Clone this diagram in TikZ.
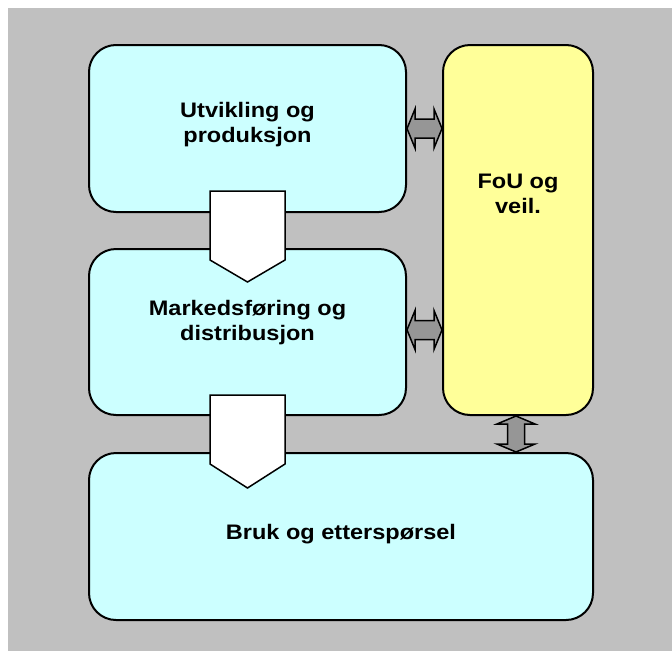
\documentclass[tikz,border=0pt]{standalone}
\usepackage{fontspec}
\setmainfont{Liberation Sans}[FakeStretch=1.12]
\usetikzlibrary{calc}

\definecolor{panelgray}{HTML}{C0C0C0}
\definecolor{boxcyan}{HTML}{CCFFFF}
\definecolor{boxyellow}{HTML}{FFFF99}
\definecolor{linkgray}{HTML}{969696}

\tikzset{
  stage/.style={draw=black, line width=2pt, rounded corners=27pt,
    minimum width=#1, inner sep=0pt, anchor=north west},
  label/.style={font=\bfseries\fontsize{21}{25}\selectfont, align=center,
    inner sep=0pt},
  flow/.style={draw=black, line width=1.5pt, fill=white, line join=miter},
  link/.style={draw=black, line width=1.5pt, fill=linkgray, line join=miter},
}

\begin{document}
\begin{tikzpicture}[x=1pt, y=-1pt]
  % page and grey panel
  \fill[white] (0,0) rectangle (672,651);
  \fill[panelgray] (8,8) rectangle (672,651);
  \useasboundingbox (0,0) rectangle (672,651);

  % stages
  \node[stage=317pt, minimum height=167pt, fill=boxcyan] (b1) at (88,44) {};
  \node[stage=317pt, minimum height=166pt, fill=boxcyan] (b2) at (88,248) {};
  \node[stage=504pt, minimum height=167pt, fill=boxcyan] (b3) at (88,452) {};
  \node[stage=150pt, minimum height=370pt, fill=boxyellow] (fou) at (442,44) {};

  % texts
  \node[label] (t1) at ($(b1.center)+(0,-4)$) {Utvikling og\\produksjon};
  \node[label] (t2) at ($(b2.center)+(0,-9)$) {Markedsføring og\\distribusjon};
  \node[label] (t3) at ($(b3.center)+(0,-2)$) {Bruk og etterspørsel};
  \node[label] (t4) at ($(fou.center)+(0,-36)$) {FoU og\\veil.};

  % flow arrows between the stages
  \draw[flow] let \p1=(b1.south) in
    (\x1-37.5pt,\y1+22pt) -- (\x1+37.5pt,\y1+22pt) -- (\x1+37.5pt,\y1-47pt)
    -- (\x1,\y1-69pt) -- (\x1-37.5pt,\y1-47pt) -- cycle;
  \draw[flow] let \p1=(b2.south) in
    (\x1-37.5pt,\y1+21pt) -- (\x1+37.5pt,\y1+21pt) -- (\x1+37.5pt,\y1-48pt)
    -- (\x1,\y1-72pt) -- (\x1-37.5pt,\y1-48pt) -- cycle;

  % two-way links to FoU
  \coordinate (h1) at (b1.east -| fou.west);
  \coordinate (h2) at ($(b2.east -| fou.west)+(0,-2)$);
  \coordinate (h2s) at ($(b2.east)+(0,-2)$);
  \coordinate (v1) at (fou.south |- b3.north);

  \draw[link] let \p1=(b1.east), \p2=(h1) in
    (\x1,\y1) -- (\x1+8pt,\y1+19.5pt) -- (\x1+8pt,\y1+9.5pt)
    -- (\x2-8pt,\y1+9.5pt) -- (\x2-8pt,\y1+19.5pt) -- (\x2,\y1)
    -- (\x2-8pt,\y1-19.5pt) -- (\x2-8pt,\y1-9.5pt) -- (\x1+8pt,\y1-9.5pt)
    -- (\x1+8pt,\y1-19.5pt) -- cycle;
  \draw[link] let \p1=(h2s), \p2=(h2) in
    (\x1,\y1) -- (\x1+8pt,\y1+19.5pt) -- (\x1+8pt,\y1+9.5pt)
    -- (\x2-8pt,\y1+9.5pt) -- (\x2-8pt,\y1+19.5pt) -- (\x2,\y1)
    -- (\x2-8pt,\y1-19.5pt) -- (\x2-8pt,\y1-9.5pt) -- (\x1+8pt,\y1-9.5pt)
    -- (\x1+8pt,\y1-19.5pt) -- cycle;
  \draw[link] let \p1=($(fou.south)+(-2,0)$), \p2=($(v1)+(-2,0)$) in
    (\x1,\y1) -- (\x1+19pt,\y1-8pt) -- (\x1+8.5pt,\y1-8pt)
    -- (\x1+8.5pt,\y2+8pt) -- (\x1+19pt,\y2+8pt) -- (\x1,\y2)
    -- (\x1-19pt,\y2+8pt) -- (\x1-8.5pt,\y2+8pt) -- (\x1-8.5pt,\y1-8pt)
    -- (\x1-19pt,\y1-8pt) -- cycle;
\end{tikzpicture}
\end{document}
